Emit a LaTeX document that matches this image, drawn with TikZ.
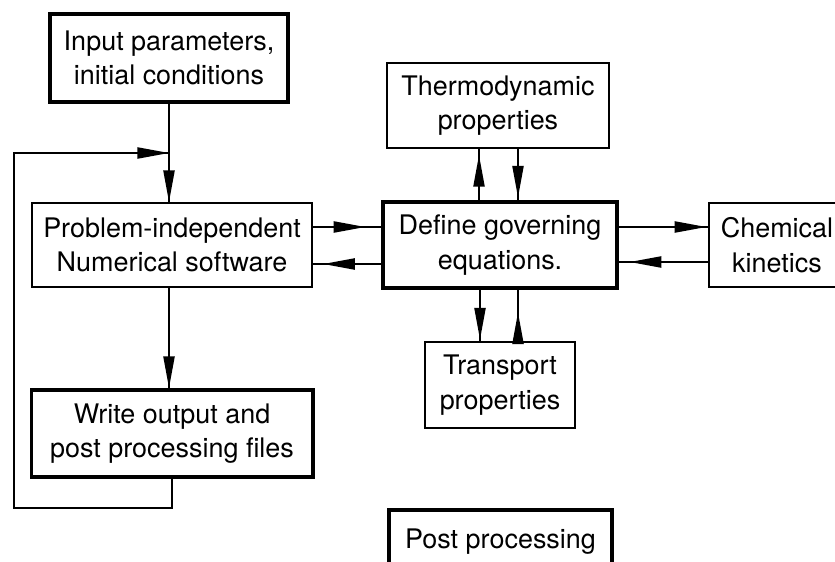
\documentclass[tikz,border=0pt]{standalone}
\usepackage{fontspec}
\setmainfont{TeX Gyre Heros}
\usetikzlibrary{arrows.meta,calc,decorations.markings}
\tikzset{
  box/.style={draw,line width=1.6pt,align=center,inner sep=0pt},
  bigbox/.style={box,line width=3.4pt},
  flow/.style={line width=1.5pt,postaction={decorate},
    decoration={markings,mark=at position #1 with {\arrow{Triangle[length=27pt,width=9.5pt]}}}}
}
\begin{document}
\begin{tikzpicture}[x=0.03cm,y=-0.03cm,font=\fontsize{23}{29.5}\selectfont]
                \useasboundingbox (0,0) rectangle (835,562);
                \clip (0,0) rectangle (835,562);

                \node[bigbox,minimum width=7.14cm,minimum height=2.64cm] (A) at (169, 58) {Input parameters,\\initial conditions};
                \node[box,minimum width=8.4cm,minimum height=2.52cm] (B) at (172, 245) {Problem-independent\\Numerical software};
                \node[bigbox,minimum width=8.43cm,minimum height=2.61cm] (C) at (172, 433.5) {Write output and\\post processing files};
                \node[bigbox,minimum width=7.02cm,minimum height=2.58cm] (D) at (500, 245) {Define governing\\equations.};
                \node[box,minimum width=6.66cm,minimum height=2.55cm] (E) at (498, 105.5) {Thermodynamic\\properties};
                \node[box,minimum width=4.08cm,minimum height=2.52cm] (F) at (777, 245) {Chemical\\kinetics};
                \node[box,minimum width=4.5cm,minimum height=2.58cm] (G) at (500, 385) {Transport\\properties};
                \node[bigbox,minimum width=6.69cm,minimum height=1.92cm] (H) at (500.5, 542) {Post processing};
                \coordinate (J) at (A.south |- 0, 153);

                \draw[flow=1] (A.south) -- (A.south |- B.north);
                \draw[flow=1] (B.south -| A.south) -- (A.south |- C.north);
                \draw[flow=1] (C.south) -- ++(0, 29) -| (14, 153) -- (J);

                \draw[flow=0.77] ($(B.east)+(0,-18)$) -- ($(D.west)+(0,-18)$);
                \draw[flow=0.85] ($(D.west)+(0,19)$) -- ($(B.east)+(0,19)$);
                \draw[flow=0.98] ($(D.east)+(0,-18)$) -- ($(F.west)+(0,-18)$);
                \draw[flow=0.88] ($(F.west)+(0,17)$) -- ($(D.east)+(0,17)$);

                \draw[flow=0.88] ($(D.north)+(-21,0)$) -- ($(E.south)+(-19,0)$);
                \draw[flow=0.95] ($(E.south)+(20,0)$) -- ($(D.north)+(18,0)$);
                \draw[flow=0.97] ($(D.south)+(-20,0)$) -- ($(G.north)+(-20,0)$);
                \draw[flow=0.56] ($(G.north)+(18,0)$) -- ($(D.south)+(18,0)$);
            \end{tikzpicture}
\end{document}
